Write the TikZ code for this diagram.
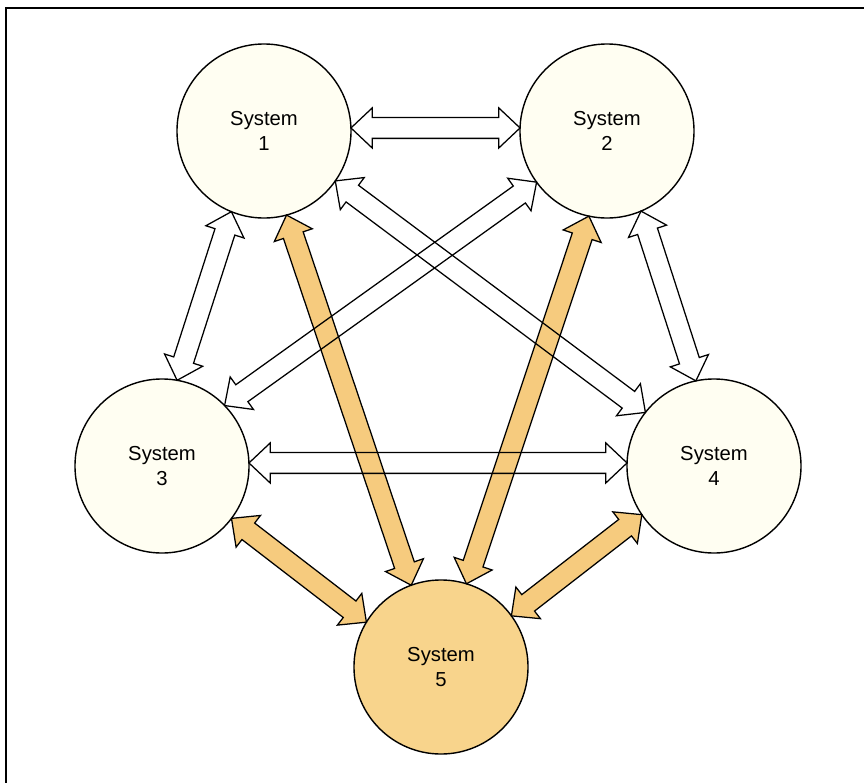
\documentclass[tikz,border=0pt]{standalone}
\usepackage{fontspec}
\setsansfont{Liberation Sans}
\usetikzlibrary{calc}
\definecolor{cream}{HTML}{FFFEF2}
\definecolor{peach}{HTML}{F8D48C}
\definecolor{amber}{HTML}{F6CB7E}

% hollow double-headed block arrow between two anchors
\newcommand{\duplex}[3]{%
  \draw[#1] (#2)
    -- ($(#2)!0.53cm!(#3)!0.5cm!90:(#3)$)
    -- ($(#2)!0.53cm!(#3)!0.26cm!90:(#3)$)
    -- ($(#3)!0.53cm!(#2)!0.26cm!-90:(#2)$)
    -- ($(#3)!0.53cm!(#2)!0.5cm!-90:(#2)$)
    -- (#3)
    -- ($(#3)!0.53cm!(#2)!0.5cm!90:(#2)$)
    -- ($(#3)!0.53cm!(#2)!0.26cm!90:(#2)$)
    -- ($(#2)!0.53cm!(#3)!0.26cm!-90:(#3)$)
    -- ($(#2)!0.53cm!(#3)!0.5cm!-90:(#3)$)
    -- cycle;}

\begin{document}
\begin{tikzpicture}[x=0.025cm, y=-0.025cm,
  system/.style={circle, draw, line width=1pt, fill=cream, minimum size=4.35cm,
    inner sep=0, outer sep=0, align=center,
    font=\sffamily\fontsize{14.4}{18}\selectfont},
  hollow/.style={draw, line width=0.9pt, line join=miter},
  solid/.style={draw, line width=0.9pt, line join=miter, fill=amber}]

  \useasboundingbox (0,0) rectangle (864,783);

  % Frame
  \draw[line width=1.4pt] (6,783) -- (6,8) -- (864,8);

  % Systems
  \node[system] (s1) at (264,131) {System\\1};
  \node[system] (s2) at (607,131) {System\\2};
  \node[system] (s3) at (162,466) {System\\3};
  \node[system] (s4) at (714,466) {System\\4};
  \node[system, fill=peach] (s5) at (441,667) {System\\5};

  % Links to system 5
  \duplex{solid}{s1.285}{s5.110}
  \duplex{solid}{s2.258}{s5.73}
  \duplex{solid}{s3.323}{s5.149}
  \duplex{solid}{s4.214}{s5.36}

  % Links among systems 1--4
  \duplex{hollow}{s1.2}{s2.178}
  \duplex{hollow}{s1.248}{s3.80}
  \duplex{hollow}{s1.325}{s4.142}
  \duplex{hollow}{s2.216}{s3.44}
  \duplex{hollow}{s2.293}{s4.102}
  \duplex{hollow}{s3.2}{s4.178}

\end{tikzpicture}
\end{document}
